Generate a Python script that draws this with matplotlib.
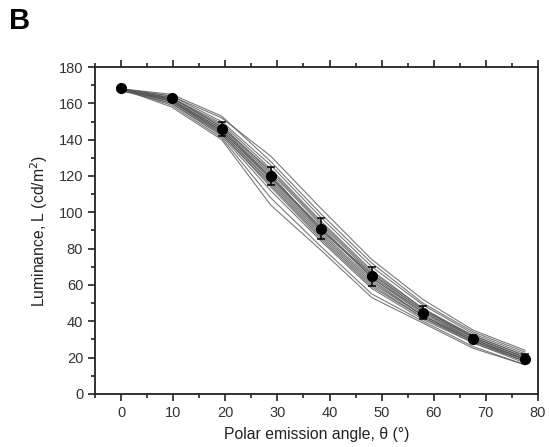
import matplotlib.pyplot as plt
from matplotlib.ticker import MultipleLocator

plt.rcParams['font.family'] = ['Liberation Sans', 'DejaVu Sans']

# angulos medidos (grados)
angulos = [0, 9.7, 19.3, 28.7, 38.4, 48.1, 57.9, 67.6, 77.5]

# valores medios y desviacion
media = [168.2, 162.8, 146.0, 120.0, 91.0, 64.8, 44.6, 30.3, 19.2]
error = [1.0, 1.5, 4.0, 5.2, 5.6, 5.2, 3.6, 2.0, 2.5]

# curvas individuales (gris)
curvas = [
    [168, 164, 152, 131, 102, 74, 52, 35, 24],
    [168, 165, 153, 128, 99, 72, 50, 34, 23],
    [167, 163, 149, 124, 95, 68, 47, 32, 21],
    [168, 163, 148, 122, 93, 66, 46, 31, 20],
    [168, 162, 146, 120, 91, 64, 44, 30, 19],
    [167, 162, 145, 118, 89, 63, 43, 29, 18],
    [168, 161, 144, 117, 88, 62, 43, 29, 19],
    [168, 161, 143, 115, 86, 60, 42, 28, 18],
    [167, 160, 142, 112, 84, 58, 41, 28, 17],
    [168, 159, 141, 108, 81, 55, 40, 26, 16],
    [168, 158, 140, 104, 79, 53, 39, 25, 16],
    [168, 163, 147, 121, 90, 65, 45, 30, 19],
    [167, 162, 146, 119, 92, 64, 45, 31, 20],
    [168, 164, 150, 126, 97, 70, 49, 33, 22],
    [168, 162, 144, 116, 87, 61, 43, 30, 19],
    [168, 161, 145, 119, 90, 66, 46, 32, 21],
    [167, 163, 147, 123, 94, 67, 47, 31, 20],
    [168, 160, 143, 114, 85, 59, 42, 29, 18],
]

fig = plt.figure(figsize=(5.49, 4.47), dpi=100)
ax = fig.add_axes([0.173, 0.119, 0.807, 0.731])

for c in curvas:
    ax.plot(angulos, c, color='0.35', lw=0.8, alpha=0.8, zorder=1)

ax.errorbar(angulos, media, yerr=error, fmt='o', color='black', ms=7,
            capsize=3, elinewidth=1.1, capthick=1.1, zorder=3)

ax.set_xlim(-5, 80)
ax.set_ylim(0, 180)
ax.xaxis.set_major_locator(MultipleLocator(10))
ax.xaxis.set_minor_locator(MultipleLocator(5))
ax.yaxis.set_major_locator(MultipleLocator(20))
ax.yaxis.set_minor_locator(MultipleLocator(10))

ax.tick_params(which='both', direction='out', top=True, right=False,
               labelsize=10.5, width=1.2, colors='#222222', labelcolor='#333333')
ax.tick_params(which='major', length=5)
ax.tick_params(which='minor', length=3)
for s in ax.spines.values():
    s.set_linewidth(1.3)
    s.set_color('#222222')

ax.set_xlabel('Polar emission angle, θ (°)', fontsize=11.3, labelpad=5, color='#222222')
ax.set_ylabel('Luminance, L (cd/m$^2$)', fontsize=11.3, labelpad=6, color='#222222')

fig.text(0.017, 0.936, 'B', fontsize=21, fontweight='bold')

fig.savefig('out.png', dpi=100)
